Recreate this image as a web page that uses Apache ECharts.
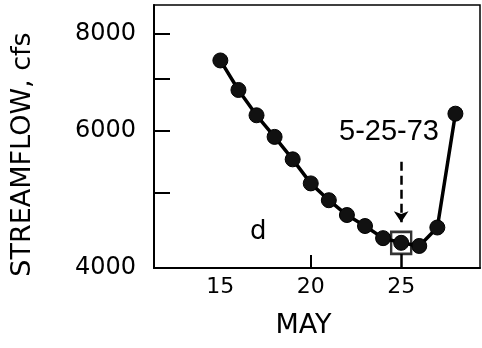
<!DOCTYPE html>
<html>
<head>
<meta charset="utf-8">
<script src="https://cdn.jsdelivr.net/npm/echarts@6/dist/echarts.min.js"></script>
<style>
  html, body { margin: 0; padding: 0; background: #fff; }
  #chart { width: 482px; height: 348px; }
</style>
</head>
<body>
<div id="chart"></div>
<script>
// ---- data ----
const days = [15, 16, 17, 18, 19, 20, 21, 22, 23, 24, 25, 26, 27, 28];
const flow = [7400, 6780, 6290, 5900, 5520, 5140, 4890, 4680, 4530, 4370, 4310, 4270, 4510, 6320];
const xTickLabels = [15, 20, 25];
const xTicks = [20];
const yTickLabels = [4000, 6000, 8000];
const yTicks = [5000, 6000, 7000, 8000];
const lowDay = 25;
const lowFlow = 4310;
const arrowFrom = 5480;
const arrowTo = 4580;
const connectorTop = 4170;
const connectorBottom = 4000;
const lowLabel = '5-25-73';
const panelLabel = 'd';

const chart = echarts.init(document.getElementById('chart'));
const font = 'DejaVu Sans';

chart.setOption({
  animation: false,
  backgroundColor: '#fff',
  grid: {
    left: 154, right: 2, top: 5, bottom: 80,
    show: true, borderColor: '#000', borderWidth: 1.5
  },
  xAxis: {
    type: 'value',
    min: 11.33, max: 29.36,
    name: 'MAY',
    nameLocation: 'middle',
    nameGap: 44,
    nameTextStyle: { fontFamily: font, fontSize: 27, color: '#000', padding: [0, 27, 0, 0] },
    axisLine: { show: true, lineStyle: { color: '#000', width: 2 } },
    axisTick: { show: true, inside: true, length: 13, customValues: xTicks, lineStyle: { color: '#000', width: 2 } },
    axisLabel: { customValues: xTickLabels, fontFamily: font, fontSize: 22, color: '#000', margin: 8 },
    splitLine: { show: false }
  },
  yAxis: {
    type: 'log',
    logBase: 10,
    min: 4000, max: 8722,
    name: 'STREAMFLOW, cfs',
    nameLocation: 'middle',
    nameRotate: 90,
    nameGap: 118,
    nameTextStyle: { fontFamily: font, fontSize: 27, color: '#000', padding: [0, 36, 0, 0] },
    axisLine: { show: true, lineStyle: { color: '#000', width: 2 } },
    axisTick: { show: true, inside: true, length: 16, customValues: yTicks, lineStyle: { color: '#000', width: 2 } },
    axisLabel: {
      customValues: yTickLabels, fontFamily: font, fontSize: 24, color: '#000', margin: 18,
      formatter: v => String(Math.round(v))
    },
    splitLine: { show: false }
  },
  series: [
    {
      type: 'line',
      data: days.map((d, i) => [d, flow[i]]),
      symbol: 'circle',
      symbolSize: 15,
      itemStyle: { color: '#111', borderColor: '#000', borderWidth: 1 },
      lineStyle: { color: '#000', width: 3.5 },
      z: 3,
      markLine: {
        silent: true,
        label: { show: false },
        data: [
          [
            { coord: [lowDay, arrowFrom], symbol: 'none' },
            { coord: [lowDay, arrowTo], symbol: 'arrow', symbolSize: 11 }
          ],
          [
            { coord: [lowDay, connectorTop], symbol: 'none', lineStyle: { type: 'solid', width: 2.5 } },
            { coord: [lowDay, connectorBottom], symbol: 'none', lineStyle: { type: 'solid', width: 2.5 } }
          ]
        ],
        lineStyle: { color: '#000', width: 2.5, type: [9, 5] }
      }
    },
    {
      type: 'scatter',
      data: [[lowDay, lowFlow]],
      symbol: 'rect',
      symbolSize: [20, 22],
      itemStyle: { color: 'rgba(0,0,0,0)', borderColor: '#000', borderWidth: 2.5 },
      z: 4
    }
  ],
  graphic: [
    {
      type: 'text', left: 339, top: 117,
      style: { text: lowLabel, fontFamily: 'Liberation Sans', fontSize: 29, fill: '#000' }
    },
    {
      type: 'text', left: 250, top: 219,
      style: { text: panelLabel, fontFamily: font, fontSize: 26, fill: '#000' }
    }
  ]
});
</script>
</body>
</html>
